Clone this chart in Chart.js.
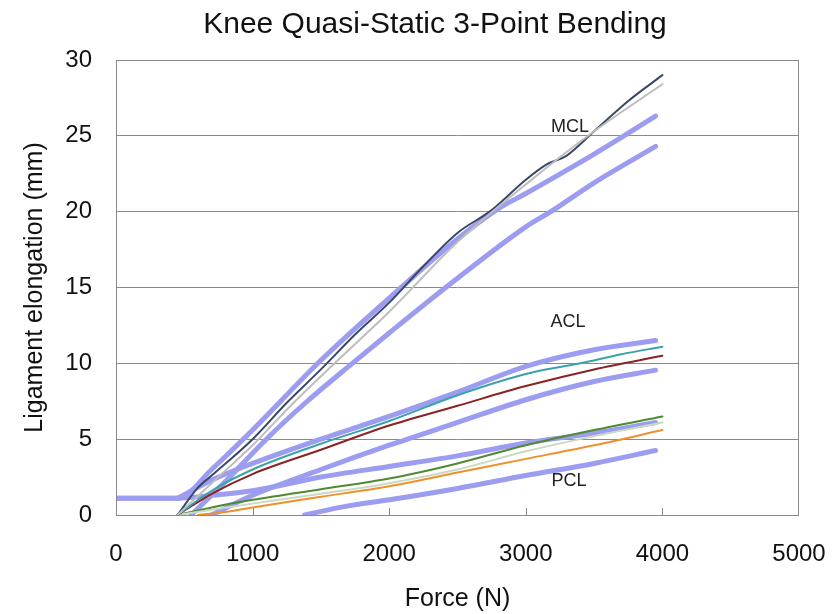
<!DOCTYPE html>
<html>
<head>
<meta charset="utf-8">
<title>Knee Quasi-Static 3-Point Bending</title>
<script src="https://cdn.jsdelivr.net/npm/chart.js@4.4.1/dist/chart.umd.min.js"></script>
<style>
  html, body { margin: 0; padding: 0; background: #ffffff; }
  #chart { display: block; }
</style>
</head>
<body>
<canvas id="chart" width="839" height="614"></canvas>
<script>
// dados: força (N) e alongamento (mm) por curva

// MCL
const mclNavyForce = [450, 600, 700, 1000, 1250, 1500, 1750, 2000, 2250, 2500, 2750, 3000, 3150, 3300, 3500, 3750, 4000];
const mclNavyElong = [0, 1.8, 2.6, 5.0, 7.4, 9.6, 11.9, 14.0, 16.4, 18.6, 20.1, 22.1, 23.1, 23.7, 25.3, 27.3, 29.0];
const mclGrayForce = [450, 700, 1000, 1300, 1600, 2000, 2500, 3000, 3500, 4000];
const mclGrayElong = [0, 2.1, 4.6, 7.4, 10.0, 13.4, 18.0, 21.8, 25.3, 28.4];
const mclUpperForce = [0, 450, 700, 1000, 1500, 2000, 2500, 2800, 3000, 3500, 3950];
const mclUpperElong = [1.1, 1.1, 3.0, 5.6, 10.2, 14.3, 18.2, 20.2, 21.2, 23.8, 26.3];
const mclLowerForce = [550, 800, 1100, 1400, 1730, 2000, 2400, 3000, 3200, 3500, 3950];
const mclLowerElong = [0, 2.2, 5.0, 7.5, 10.0, 12.0, 14.9, 19.0, 20.1, 21.9, 24.3];

// ACL
const aclTealForce = [450, 700, 1000, 1500, 2000, 2500, 3000, 3400, 3700, 4000];
const aclTealElong = [0, 1.6, 3.0, 4.7, 6.2, 7.9, 9.3, 10.0, 10.6, 11.1];
const aclRedForce = [450, 700, 1000, 1500, 2000, 2500, 3000, 3500, 4000];
const aclRedElong = [0, 1.4, 2.7, 4.3, 5.9, 7.2, 8.5, 9.6, 10.5];
const aclUpperForce = [450, 700, 1000, 1500, 2000, 2500, 3000, 3500, 3950];
const aclUpperElong = [1.1, 2.3, 3.4, 5.0, 6.5, 8.1, 9.8, 10.9, 11.5];
const aclLowerForce = [700, 1000, 1500, 2000, 2500, 3000, 3500, 3950];
const aclLowerElong = [0, 1.3, 3.0, 4.6, 6.1, 7.6, 8.8, 9.55];

// PCL
const pclGreenForce = [450, 700, 1000, 1500, 2000, 2500, 3000, 3500, 4000];
const pclGreenElong = [0, 0.5, 1.0, 1.7, 2.4, 3.4, 4.6, 5.6, 6.5];
const pclPaleForce = [450, 700, 1000, 1500, 2000, 2500, 3000, 3500, 4000];
const pclPaleElong = [0, 0.35, 0.75, 1.4, 2.1, 3.0, 4.2, 5.2, 6.1];
const pclOrangeForce = [600, 800, 1000, 1500, 2000, 2500, 3000, 3500, 4000];
const pclOrangeElong = [0, 0.2, 0.5, 1.2, 1.9, 2.8, 3.7, 4.6, 5.6];
const pclUpperForce = [0, 450, 700, 1000, 1500, 2000, 2500, 3000, 3500, 3950];
const pclUpperElong = [1.1, 1.1, 1.3, 1.6, 2.5, 3.2, 3.9, 4.75, 5.4, 6.1];
const pclLowerForce = [1380, 1700, 2000, 2500, 3000, 3500, 3950];
const pclLowerElong = [0, 0.6, 1.0, 1.75, 2.6, 3.4, 4.25];

// eixos e rótulos
const forceTicks = [0, 1000, 2000, 3000, 4000, 5000];
const elongTicks = [0, 5, 10, 15, 20, 25, 30];
const groupNames = ['MCL', 'ACL', 'PCL'];
const groupForce = [3324, 3309, 3316];
const groupElong = [25.6, 12.7, 2.25];

const FONT = "'Liberation Sans', Arial, Helvetica, sans-serif";
const LAVENDER = '#9c9cf0';

function pares(forca, along) {
    return forca.map((f, i) => ({ x: f, y: along[i] }));
}

function curvaGrossa(forca, along) {
    return {
        data: pares(forca, along),
        borderColor: LAVENDER,
        borderWidth: 5,
        order: 2
    };
}

function curvaFina(forca, along, cor) {
    return {
        data: pares(forca, along),
        borderColor: cor,
        borderWidth: 2,
        order: 1
    };
}

// título, moldura, marcas internas e rótulos MCL/ACL/PCL
const extras = {
    id: 'extras',
    afterDraw(chart) {
        const { ctx, chartArea: a, scales } = chart;
        ctx.save();
        ctx.strokeStyle = '#8a8a8a';
        ctx.lineWidth = 1;
        ctx.strokeRect(a.left + 0.5, a.top + 0.5, a.right - a.left - 1, a.bottom - a.top);

        forceTicks.slice(1, -1).forEach(v => {
            const px = Math.round(scales.x.getPixelForValue(v)) + 0.5;
            ctx.beginPath();
            ctx.moveTo(px, a.bottom);
            ctx.lineTo(px, a.bottom - 7);
            ctx.stroke();
        });

        ctx.fillStyle = '#222222';
        ctx.textAlign = 'center';
        ctx.textBaseline = 'middle';
        ctx.font = '18px ' + FONT;
        groupNames.forEach((nome, i) => {
            ctx.fillText(nome, scales.x.getPixelForValue(groupForce[i]), scales.y.getPixelForValue(groupElong[i]));
        });

        ctx.fillStyle = '#111111';
        ctx.font = '30px ' + FONT;
        ctx.fillText('Knee Quasi-Static 3-Point Bending', 435, 25);
        ctx.restore();
    }
};

document.addEventListener('DOMContentLoaded', function () {
    const ctx = document.getElementById('chart').getContext('2d');
    new Chart(ctx, {
        type: 'scatter',
        data: {
            datasets: [
                curvaGrossa(mclUpperForce, mclUpperElong),
                curvaGrossa(mclLowerForce, mclLowerElong),
                curvaGrossa(aclUpperForce, aclUpperElong),
                curvaGrossa(aclLowerForce, aclLowerElong),
                curvaGrossa(pclUpperForce, pclUpperElong),
                curvaGrossa(pclLowerForce, pclLowerElong),
                curvaFina(mclGrayForce, mclGrayElong, '#bdbdbd'),
                curvaFina(mclNavyForce, mclNavyElong, '#3a4868'),
                curvaFina(aclTealForce, aclTealElong, '#3aa3a6'),
                curvaFina(aclRedForce, aclRedElong, '#8a2323'),
                curvaFina(pclPaleForce, pclPaleElong, '#c9d9c2'),
                curvaFina(pclOrangeForce, pclOrangeElong, '#f0902c'),
                curvaFina(pclGreenForce, pclGreenElong, '#4f8a30')
            ].map(ds => Object.assign(ds, {
                showLine: true,
                pointRadius: 0,
                cubicInterpolationMode: 'monotone',
                borderJoinStyle: 'round',
                borderCapStyle: 'round',
                fill: false
            }))
        },
        options: {
            responsive: false,
            animation: false,
            layout: { padding: { top: 60, right: 40, bottom: 0, left: 0 } },
            plugins: {
                legend: { display: false },
                title: { display: false },
                tooltip: { enabled: false }
            },
            scales: {
                x: {
                    type: 'linear',
                    min: forceTicks[0],
                    max: forceTicks[forceTicks.length - 1],
                    afterBuildTicks: s => { s.ticks = forceTicks.map(v => ({ value: v })); },
                    ticks: {
                        color: '#111111',
                        font: { family: FONT, size: 24 },
                        padding: 25,
                        maxRotation: 0,
                        callback: v => String(v)
                    },
                    grid: { display: false, drawTicks: false },
                    border: { display: false },
                    title: {
                        display: true,
                        text: 'Force (N)',
                        color: '#111111',
                        font: { family: FONT, size: 25 },
                        padding: { top: 2, bottom: 0 }
                    },
                    afterFit: s => {
                        s.height = 99;
                        s.paddingLeft = 0;
                        s.paddingRight = 0;
                    }
                },
                y: {
                    min: elongTicks[0],
                    max: elongTicks[elongTicks.length - 1],
                    afterBuildTicks: s => { s.ticks = elongTicks.map(v => ({ value: v })); },
                    ticks: {
                        color: '#111111',
                        font: { family: FONT, size: 24 },
                        padding: 24,
                        callback: v => String(v)
                    },
                    grid: { color: '#8a8a8a', lineWidth: 1, drawTicks: false },
                    border: { display: false },
                    title: {
                        display: true,
                        text: 'Ligament elongation (mm)',
                        color: '#111111',
                        font: { family: FONT, size: 25 },
                        padding: { top: 20, bottom: 0 }
                    },
                    afterFit: s => {
                        s.width = 116;
                        s.paddingTop = 0;
                        s.paddingBottom = 0;
                    }
                }
            }
        },
        plugins: [extras]
    });
});
</script>
</body>
</html>
